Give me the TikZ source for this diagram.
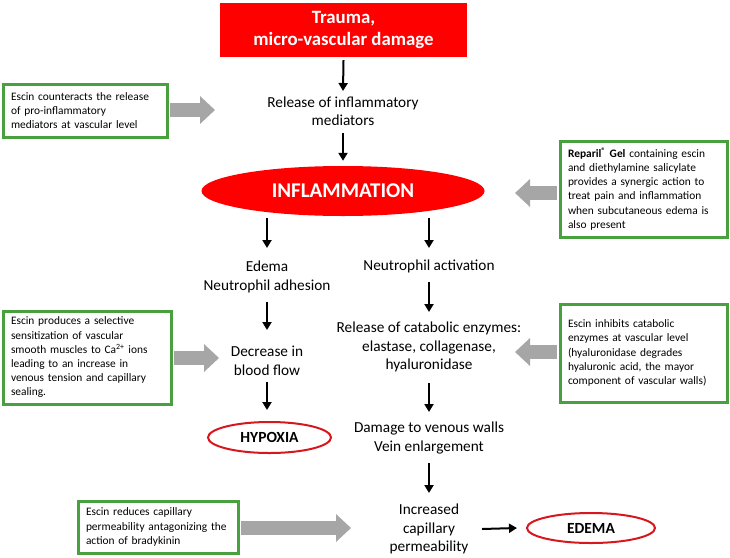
\documentclass[tikz,border=0pt]{standalone}
\usepackage{fontspec}
\setmainfont{Carlito}
\usetikzlibrary{arrows.meta,shapes.geometric,calc}
\definecolor{redfill}{RGB}{255,0,0}
\definecolor{redline}{RGB}{214,24,30}
\definecolor{gboxc}{RGB}{72,160,62}
\definecolor{garrowc}{RGB}{166,166,166}
\tikzset{
  lbl/.style={inner sep=0pt, align=center, font=\fontsize{15.3}{18.5}\selectfont},
  gbox/.style={draw=gboxc, line width=3pt, fill=white, inner xsep=8pt, inner ysep=2pt, align=left, font=\fontsize{11.4}{14.2}\selectfont},
  flow/.style={line width=2pt, -{Triangle[length=8pt,width=9pt]}},
  garrow/.style={draw=garrowc, line width=14pt, -{Triangle[length=15pt,width=27pt]}},
  outell/.style={ellipse, draw=redline, line width=2pt, inner sep=0pt, font=\fontsize{15.5}{18}\selectfont\bfseries}
}
\begin{document}
\begin{tikzpicture}[x=1pt,y=-1pt]
\useasboundingbox (0,0) rectangle (730,557);
% main chain
\node[fill=redfill, minimum width=247, minimum height=54, inner sep=0pt, align=center, text=white, font=\fontsize{18.8}{21.5}\selectfont\bfseries] (trauma) at (343.5,30) {Trauma,\\micro-vascular damage};
\node[lbl] (release) at (343,111) {Release of inflammatory\\mediators};
\node[ellipse, fill=redfill, minimum width=283, minimum height=50, inner sep=0pt, text=white, font=\fontsize{21}{24}\selectfont\bfseries] (inflam) at (343,191) {INFLAMMATION};
\node[lbl] (edemaadh) at (267,277) {Edema\\Neutrophil adhesion};
\node[lbl] (neutact) at (429,266) {Neutrophil activation};
\node[lbl] (decrease) at (267,361) {Decrease in\\blood flow};
\node[outell, minimum width=123, minimum height=31] (hypoxia) at (269.5,437.5) {HYPOXIA};
\node[lbl] (catabolic) at (429,347) {Release of catabolic enzymes:\\elastase, collagenase,\\hyaluronidase};
\node[lbl] (damage) at (429,438) {Damage to venous walls\\Vein enlargement};
\node[lbl] (increased) at (429,529) {Increased\\capillary\\permeability};
\node[outell, minimum width=128, minimum height=30] (edema) at (591,528) {EDEMA};
% green boxes
\node[gbox, minimum width=164, minimum height=53, text width=148] (box1) at (85,110.5) {Escin counteracts the release\\of pro-inflammatory\\mediators at vascular level};
\node[gbox, minimum width=167, minimum height=96, text width=151] (box2) at (643.5,189) {\textbf{Reparil\textsuperscript{®} Gel} containing escin\\and diethylamine salicylate\\provides a synergic action to\\treat pain and inflammation\\when subcutaneous edema is\\also present};
\node[gbox, minimum width=168, minimum height=93, text width=152] (box3) at (87,357.5) {Escin produces a selective\\sensitization of vascular\\smooth muscles to Ca\textsuperscript{2+} ions\\leading to an increase in\\venous tension and capillary\\sealing.};
\node[gbox, minimum width=167, minimum height=98, text width=151] (box4) at (643.5,353) {Escin inhibits catabolic\\enzymes at vascular level\\(hyaluronidase degrades\\hyaluronic acid, the mayor\\component of vascular walls)};
\node[gbox, minimum width=160, minimum height=52, text width=144] (box5) at (158,527) {Escin reduces capillary\\permeability antagonizing the\\action of bradykinin};
% gray arrows
\coordinate (t1) at (215,110);
\coordinate (t2) at (515,193);
\coordinate (t3) at (219,358);
\coordinate (t4) at (515,352);
\coordinate (t5) at (351,528);
\draw[garrow] ($(box1.east |- t1)+(1.5,0)$) -- (t1);
\draw[garrow] ($(box2.west |- t2)+(-1.5,0)$) -- (t2);
\draw[garrow] ($(box3.east |- t3)+(1.5,0)$) -- (t3);
\draw[garrow] ($(box4.west |- t4)+(-1.5,0)$) -- (t4);
\draw[garrow] ($(box5.east |- t5)+(1.5,0)$) -- (t5);
% black arrows
\draw[flow] ($(trauma.south)+(0,3)$) -- ($(release.center)+(0,-20)$);
\draw[flow] ($(release.center)+(0,22)$) -- ($(inflam.north)+(0,-5)$);
\draw[flow] ($(inflam.center -| edemaadh.center)+(0,27)$) -- ($(edemaadh.center)+(0,-29)$);
\draw[flow] ($(inflam.center -| neutact.center)+(0,27)$) -- ($(neutact.center)+(0,-18)$);
\draw[flow] ($(edemaadh.center)+(0,25)$) -- ($(decrease.center)+(0,-31)$);
\draw[flow] ($(neutact.center)+(0,16)$) -- ($(catabolic.center)+(0,-35)$);
\draw[flow] ($(decrease.center)+(0,21)$) -- ($(decrease.center |- hypoxia.north)+(0,-11)$);
\draw[flow] ($(catabolic.center)+(0,36)$) -- ($(damage.center)+(0,-26)$);
\draw[flow] ($(damage.center)+(0,25)$) -- ($(increased.center)+(0,-36)$);
\draw[flow] ($(increased.center)+(53,0)$) -- ($(edema.west)+(-9,0)$);
\end{tikzpicture}
\end{document}
